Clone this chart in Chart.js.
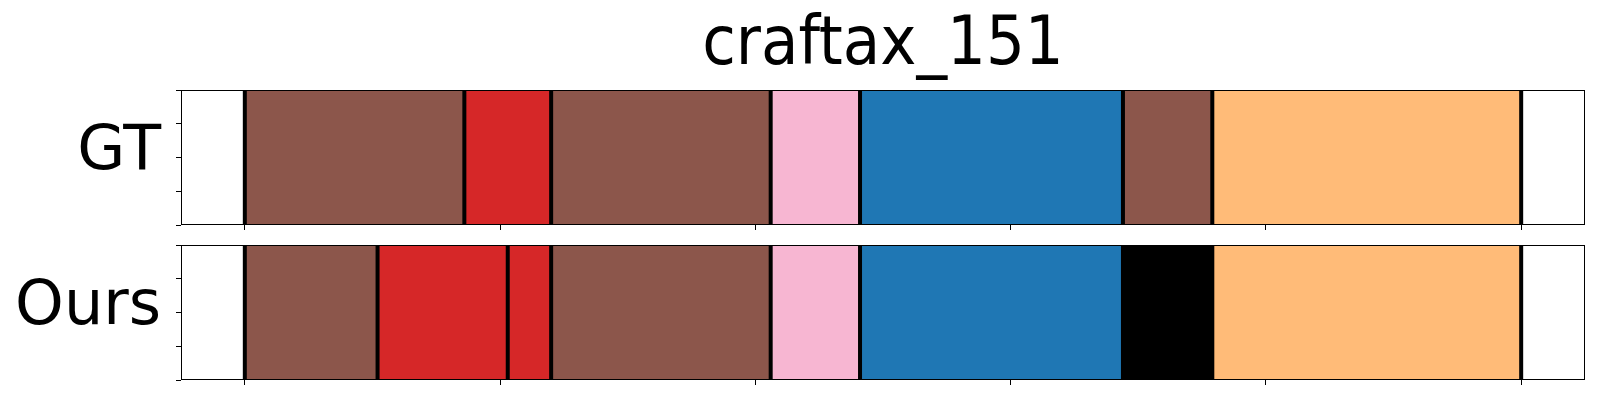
<!DOCTYPE html>
<html>
<head>
<meta charset="utf-8">
<title>craftax_151</title>
<script src="https://cdn.jsdelivr.net/npm/chart.js@4/dist/chart.umd.min.js"></script>
<style>
  html, body { margin: 0; padding: 0; background: #fff; }
  #wrap { position: relative; width: 1600px; height: 400px; }
  .panel { position: absolute; left: 0; width: 1600px; }
</style>
</head>
<body>
<div id="wrap">
  <div class="panel" style="top:0"><canvas id="gt" width="1600" height="235"></canvas></div>
  <div class="panel" style="top:240px"><canvas id="ours" width="1600" height="150"></canvas></div>
</div>
<script>
const title      = 'craftax_151'
const rowLabels  = ['GT', 'Ours']
const xTicks     = [0, 100, 200, 300, 400, 500]
const yTicks     = [0, 0.25, 0.5, 0.75, 1]

// segment boundaries (frame index) and the class of each segment
const gtBounds   = [0, 86, 120, 206, 241, 344, 379, 500]
const gtClasses  = ['brown', 'red', 'brown', 'pink', 'blue', 'brown', 'orange']
const oursBounds  = [0, 52, 103, 120, 206, 241, 344, 379, 500]
const oursClasses = ['brown', 'red', 'red', 'brown', 'pink', 'blue', 'black', 'orange']

const palette = {
  brown:  '#8c564b',
  red:    '#d62728',
  pink:   '#f7b6d2',
  blue:   '#1f77b4',
  orange: '#ffbb78',
  black:  '#000000',
}

Chart.defaults.font.family = 'DejaVu Sans'
Chart.defaults.color = '#000'

// black bars at each boundary plus the axes frame, drawn on top like matplotlib spines
const boundaryLines = {
  id: 'boundaryLines',
  afterDatasetsDraw(chart, args, opts) {
    const { ctx, chartArea: a, scales: { x } } = chart
    ctx.save()
    ctx.strokeStyle = '#000'
    ctx.lineWidth = 4
    opts.bounds.forEach(b => {
      const px = x.getPixelForValue(b)
      ctx.beginPath()
      ctx.moveTo(px, a.top)
      ctx.lineTo(px, a.bottom)
      ctx.stroke()
    })
    ctx.lineWidth = 1
    ctx.strokeRect(a.left + 0.5, a.top + 0.5, a.right - a.left - 1, a.bottom - a.top - 1)
    ctx.restore()
  }
}

function makeRow(canvasId, label, bounds, classes, withTitle) {
  const datasets = classes.map((c, i) => ({
    label:           c,
    data:            [[bounds[i], bounds[i + 1]]],
    backgroundColor: palette[c],
    borderWidth:     0,
    grouped:         false,
    categoryPercentage: 1,
    barPercentage:   1,
  }))

  return new Chart(document.getElementById(canvasId), {
    type: 'bar',
    data: { labels: [label], datasets },
    plugins: [boundaryLines],
    options: {
      indexAxis:  'y',
      responsive: false,
      animation:  false,
      layout: { padding: { left: 0, right: 15, top: withTitle ? 0 : 5, bottom: 5 } },
      plugins: {
        legend:  { display: false },
        tooltip: { enabled: false },
        boundaryLines: { bounds },
        title: {
          display:  withTitle,
          text:     title,
          fullSize: false,
          color:    '#000',
          font:     { family: 'DejaVu Sans Condensed', size: 68, weight: 'normal' },
          padding:  { top: 6, bottom: 2.4 },
        },
      },
      scales: {
        x: {
          type: 'linear',
          min: -25,
          max: 525,
          offset: false,
          afterBuildTicks: s => { s.ticks = xTicks.map(v => ({ value: v })) },
          ticks:  { display: false },
          grid:   { offset: false, drawOnChartArea: false, tickLength: 5, color: '#000', lineWidth: 1 },
          border: { display: false },
        },
        y: {
          type:   'category',
          weight: 1,
          grid:   { display: false },
          border: { display: false },
          ticks:  { font: { size: 62 }, padding: 7, labelOffset: -5, color: '#000' },
          afterFit: s => {
            s.width = 176
            s.paddingTop = 0
            s.paddingBottom = 0
          },
        },
        y2: {
          type:     'linear',
          position: 'left',
          weight:   0,
          min: 0,
          max: 1,
          offset: false,
          afterBuildTicks: s => { s.ticks = yTicks.map(v => ({ value: v })) },
          ticks:  { display: false },
          grid:   { offset: false, drawOnChartArea: false, tickLength: 5, color: '#000', lineWidth: 1 },
          border: { display: false },
        },
      },
    },
  })
}

makeRow('gt',   rowLabels[0], gtBounds,   gtClasses,   true)
makeRow('ours', rowLabels[1], oursBounds, oursClasses, false)
</script>
</body>
</html>
